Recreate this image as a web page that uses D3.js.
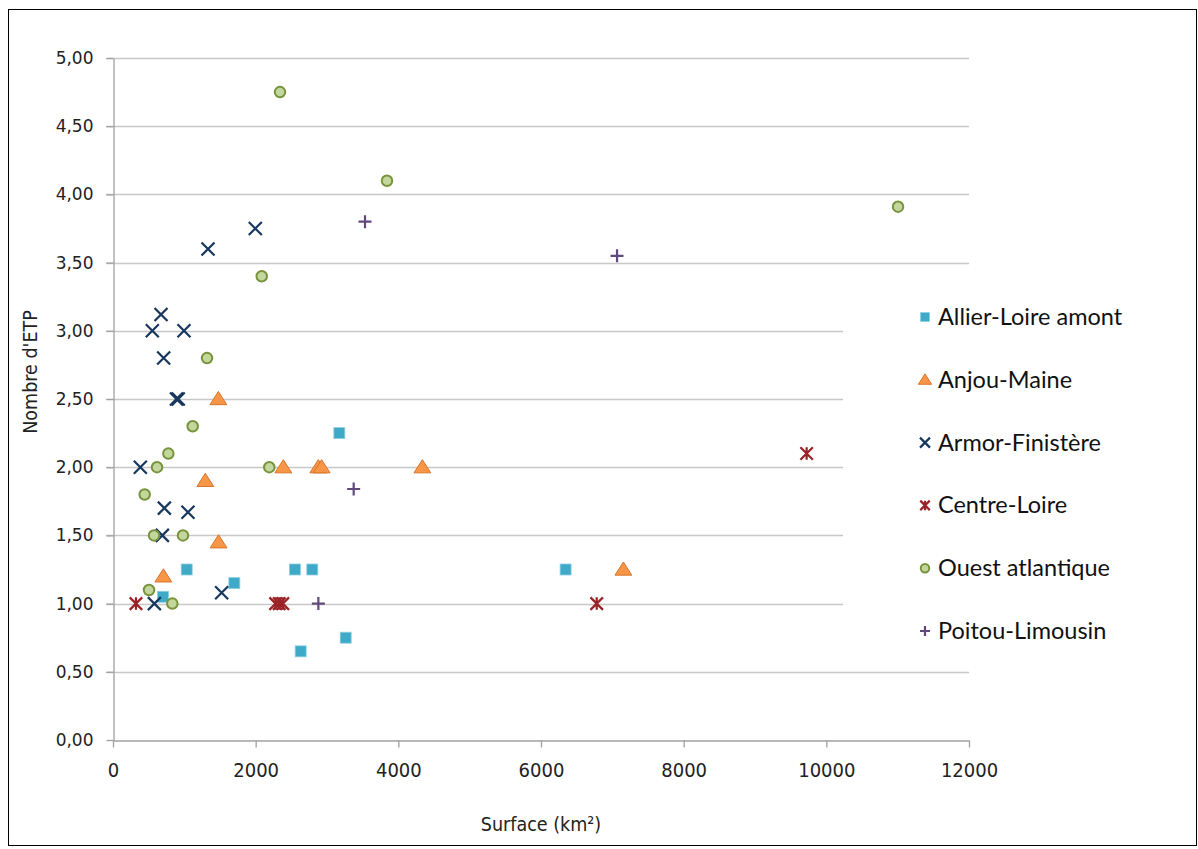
<!DOCTYPE html>
<html>
<head>
<meta charset="utf-8">
<script src="https://cdn.jsdelivr.net/npm/d3@7"></script>
<style>
  html, body { margin: 0; padding: 0; background: #fff; }
  svg { display: block; }
</style>
</head>
<body>
<svg id="chart" width="1198" height="849"></svg>
<script>
// Surface (km²) and number of FTE per territory, grouped by region
const seriesNames = ["Allier-Loire amont", "Anjou-Maine", "Armor-Finistère", "Centre-Loire", "Ouest atlantique", "Poitou-Limousin"];

const allierLoireSurface = [1033, 701, 1701, 2551, 2794, 3173, 3262, 2631, 6345];
const allierLoireEtp     = [1.25, 1.05, 1.15, 1.25, 1.25, 2.25, 0.75, 0.65, 1.25];

const anjouMaineSurface = [1477, 2388, 2878, 2925, 1294, 1480, 706, 4337, 7155];
const anjouMaineEtp     = [2.50, 2.00, 2.00, 2.00, 1.90, 1.45, 1.20, 2.00, 1.25];

const armorFinistereSurface = [673, 551, 995, 710, 890, 915, 383, 720, 1051, 692, 1523, 580, 1995, 1332];
const armorFinistereEtp     = [3.12, 3.00, 3.00, 2.80, 2.50, 2.50, 2.00, 1.70, 1.67, 1.50, 1.08, 1.00, 3.75, 3.60];

const centreLoireSurface = [322, 2280, 2330, 2380, 6781, 9724];
const centreLoireEtp     = [1.00, 1.00, 1.00, 1.00, 1.00, 2.10];

const ouestAtlantiqueSurface = [2341, 3841, 2085, 11005, 1318, 1117, 776, 617, 2191, 444, 575, 981, 505, 832];
const ouestAtlantiqueEtp     = [4.75, 4.10, 3.40, 3.91, 2.80, 2.30, 2.10, 2.00, 2.00, 1.80, 1.50, 1.50, 1.10, 1.00];

const poitouLimousinSurface = [3533, 7066, 3374, 2879];
const poitouLimousinEtp     = [3.80, 3.55, 1.84, 1.00];

const xTicks = [0, 2000, 4000, 6000, 8000, 10000, 12000];
const yTicks = [0, 0.5, 1, 1.5, 2, 2.5, 3, 3.5, 4, 4.5, 5];

const surfaces = [allierLoireSurface, anjouMaineSurface, armorFinistereSurface, centreLoireSurface, ouestAtlantiqueSurface, poitouLimousinSurface];
const etps = [allierLoireEtp, anjouMaineEtp, armorFinistereEtp, centreLoireEtp, ouestAtlantiqueEtp, poitouLimousinEtp];

const series = seriesNames.map((name, i) => ({
  name,
  kind: ["square", "triangle", "cross", "asterisk", "circle", "plus"][i],
  points: surfaces[i].map((s, j) => ({ x: s, y: etps[i][j] }))
}));

const svg = d3.select("#chart");
const W = 1198, H = 849;

// outer frame
svg.append("rect").attr("x", 0).attr("y", 0).attr("width", W).attr("height", H).attr("fill", "#fff");
svg.append("rect").attr("x", 8.5).attr("y", 9.5).attr("width", 1188).attr("height", 836)
  .attr("fill", "none").attr("stroke", "#000").attr("stroke-width", 1);

const x = d3.scaleLinear().domain([0, 12000]).range([113, 969]);
const y = d3.scaleLinear().domain([0, 5]).range([740, 58]);

// horizontal gridlines (with left tick stubs)
const grid = svg.append("g");
grid.selectAll("line").data(yTicks.filter(t => t > 0)).join("line")
  .attr("x1", 106).attr("x2", 969)
  .attr("y1", d => Math.round(y(d)) + 0.5).attr("y2", d => Math.round(y(d)) + 0.5)
  .attr("stroke", "#c8c8c8").attr("stroke-width", 1.5);

// y axis
const yAxis = svg.append("g").attr("transform", "translate(113.5,0)")
  .call(d3.axisLeft(y).tickValues(yTicks).tickSize(7).tickSizeOuter(0)
    .tickFormat(d => d3.format(".2f")(d).replace(".", ",")));
yAxis.select(".domain").attr("stroke", "#a0a0a0").attr("stroke-width", 1.3);
yAxis.selectAll(".tick line").attr("stroke", "#a0a0a0").attr("stroke-width", 1.3);
yAxis.selectAll(".tick text")
  .attr("x", -20)
  .attr("font-family", "'DejaVu Sans', Verdana, sans-serif")
  .attr("font-size", 17).attr("fill", "#222");

// x axis
const xAxis = svg.append("g").attr("transform", "translate(0,740.5)")
  .call(d3.axisBottom(x).tickValues(xTicks).tickSize(7).tickSizeOuter(0).tickFormat(d3.format("d")));
xAxis.select(".domain").attr("stroke", "#a0a0a0").attr("stroke-width", 1.3);
xAxis.selectAll(".tick line").attr("stroke", "#a0a0a0").attr("stroke-width", 1.3);
xAxis.selectAll(".tick text")
  .attr("y", 22)
  .attr("font-family", "'Liberation Sans Narrow', 'DejaVu Sans Condensed', sans-serif")
  .attr("font-size", 20).attr("fill", "#222");

// axis titles
svg.append("text").attr("x", 541).attr("y", 831).attr("text-anchor", "middle")
  .attr("font-family", "'Liberation Sans Narrow', 'DejaVu Sans Condensed', sans-serif")
  .attr("font-size", 19.5).attr("fill", "#222").text("Surface (km²)");
svg.append("text").attr("transform", "translate(37,372) rotate(-90)").attr("text-anchor", "middle")
  .attr("font-family", "'Liberation Sans Narrow', 'DejaVu Sans Condensed', sans-serif")
  .attr("font-size", 19.5).attr("fill", "#222").text("Nombre d'ETP");

// marker drawing
const styles = {
  square:   { fill: "#3fa9c8", stroke: "#8fd0e3" },
  triangle: { fill: "#f79646", stroke: "#d9742a" },
  cross:    { stroke: "#17375e" },
  asterisk: { stroke: "#9b2226" },
  circle:   { fill: "#c3d69b", stroke: "#77933c" },
  plus:     { stroke: "#604a7b" }
};

function drawMarker(g, kind, s) {
  const st = styles[kind];
  if (kind === "square") {
    g.append("rect").attr("x", -s / 2).attr("y", -s / 2).attr("width", s).attr("height", s)
      .attr("fill", st.fill).attr("stroke", st.stroke).attr("stroke-width", 0.8);
  } else if (kind === "triangle") {
    const h = s * 0.9;
    g.append("path").attr("d", `M0,${-h * 0.6}L${s * 0.6},${h * 0.45}L${-s * 0.6},${h * 0.45}Z`)
      .attr("fill", st.fill).attr("stroke", st.stroke).attr("stroke-width", 1);
  } else if (kind === "circle") {
    g.append("circle").attr("r", s / 2).attr("fill", st.fill).attr("stroke", st.stroke).attr("stroke-width", 2);
  } else {
    const r = s / 2;
    let d = "";
    if (kind === "cross" || kind === "asterisk") d += `M${-r},${-r}L${r},${r}M${-r},${r}L${r},${-r}`;
    if (kind === "asterisk") d += `M0,${-r}L0,${r}`;
    if (kind === "plus") d += `M${-r},0L${r},0M0,${-r}L0,${r}`;
    g.append("path").attr("d", d).attr("fill", "none").attr("stroke", st.stroke)
      .attr("stroke-width", 2.2);
  }
}

const markerSize = { square: 11, triangle: 14, cross: 13, asterisk: 12.5, circle: 10.5, plus: 13 };

series.forEach(se => {
  const g = svg.append("g");
  se.points.forEach(p => {
    const m = g.append("g").attr("transform", `translate(${x(p.x)},${y(p.y)})`);
    drawMarker(m, se.kind, markerSize[se.kind]);
  });
});

// legend (white panel over gridlines)
svg.append("rect").attr("x", 843).attr("y", 285).attr("width", 350).attr("height", 370).attr("fill", "#fff");
const legend = svg.append("g");
const legendSize = { square: 9, triangle: 11, cross: 10, asterisk: 9.5, circle: 8.5, plus: 10 };
series.forEach((se, i) => {
  const cy = 317 + i * 62.8;
  const m = legend.append("g").attr("transform", `translate(925,${cy})`);
  drawMarker(m, se.kind, legendSize[se.kind]);
  legend.append("text").attr("x", 938).attr("y", cy + 8)
    .attr("font-family", "Lato, 'Open Sans', sans-serif").attr("font-size", 23.5).attr("fill", "#111")
    .text(se.name);
});
</script>
</body>
</html>
